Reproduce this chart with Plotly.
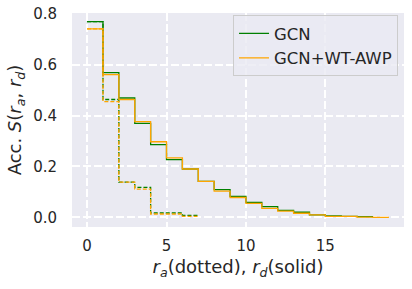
import plotly.graph_objects as go

# r_d (solid) step values per unit interval starting at 0
gcn_solid = [0.769, 0.569, 0.469, 0.369, 0.286, 0.227, 0.19, 0.141, 0.109, 0.082,
             0.059, 0.042, 0.027, 0.020, 0.010, 0.006, 0.004, 0.003]
awp_solid = [0.741, 0.561, 0.463, 0.376, 0.297, 0.234, 0.19, 0.141, 0.103, 0.078,
             0.055, 0.035, 0.024, 0.016, 0.010, 0.004, 0.004, 0.001, 0.0]
# r_a (dotted) step values
gcn_dotted = [0.769, 0.463, 0.138, 0.118, 0.017, 0.017, 0.008]
awp_dotted = [0.741, 0.455, 0.138, 0.111, 0.013, 0.013, 0.004]

x_ticks = [0, 5, 10, 15]
y_ticks = [0.0, 0.2, 0.4, 0.6, 0.8]
names = ["GCN", "GCN+WT-AWP"]
colors = ["green", "orange"]


def step_xy(vals):
    xs = list(range(len(vals) + 1))
    ys = list(vals) + [vals[-1]]
    return xs, ys


fig = go.Figure()
series = [(gcn_solid, gcn_dotted, names[0], colors[0]),
          (awp_solid, awp_dotted, names[1], colors[1])]
for solid, dotted, name, col in series:
    xs, ys = step_xy(solid)
    fig.add_trace(go.Scatter(x=xs, y=ys, mode="lines", line_shape="hv",
                             line=dict(color=col, width=1.3), name=name))
    xs, ys = step_xy(dotted)
    fig.add_trace(go.Scatter(x=xs, y=ys, mode="lines", line_shape="hv",
                             line=dict(color=col, width=1.3, dash="4px,2px"),
                             showlegend=False))

font_col = "#262626"
fig.update_layout(
    width=412, height=289,
    margin=dict(l=72, r=8, t=13, b=62),
    paper_bgcolor="white", plot_bgcolor="#EAEAF2",
    font=dict(family="DejaVu Sans", size=15, color=font_col),
    legend=dict(x=0.982, y=0.99, xanchor="right", yanchor="top",
                bgcolor="rgba(234,234,242,0.8)", bordercolor="#cccccc",
                borderwidth=1, font=dict(size=16.5, color=font_col)),
    xaxis=dict(range=[-0.95, 19.95], tickvals=x_ticks, showgrid=True,
               gridcolor="white", griddash="8px,3px", gridwidth=1.5,
               zeroline=False, showline=False, ticks="", ticklabelstandoff=8,
               automargin=False, ticklabeloverflow="allow",
               title=dict(text="<i>r</i><sub><i>a</i></sub>(dotted), <i>r</i><sub><i>d</i></sub>(solid)",
                          standoff=6)),
    yaxis=dict(range=[-0.038, 0.803], tickvals=y_ticks, tickformat=".1f",
               showgrid=True, gridcolor="white", griddash="8px,3px", gridwidth=1.5,
               zeroline=False, showline=False, ticks="", ticklabelstandoff=14,
               automargin=False, ticklabeloverflow="allow",
               title=dict(text="Acc. <i>S</i>(<i>r</i><sub><i>a</i></sub>, <i>r</i><sub><i>d</i></sub>)",
                          standoff=6)),
)

fig.write_html("out.html", config={"displayModeBar": False},
               post_script="document.body.style.margin='0';")
